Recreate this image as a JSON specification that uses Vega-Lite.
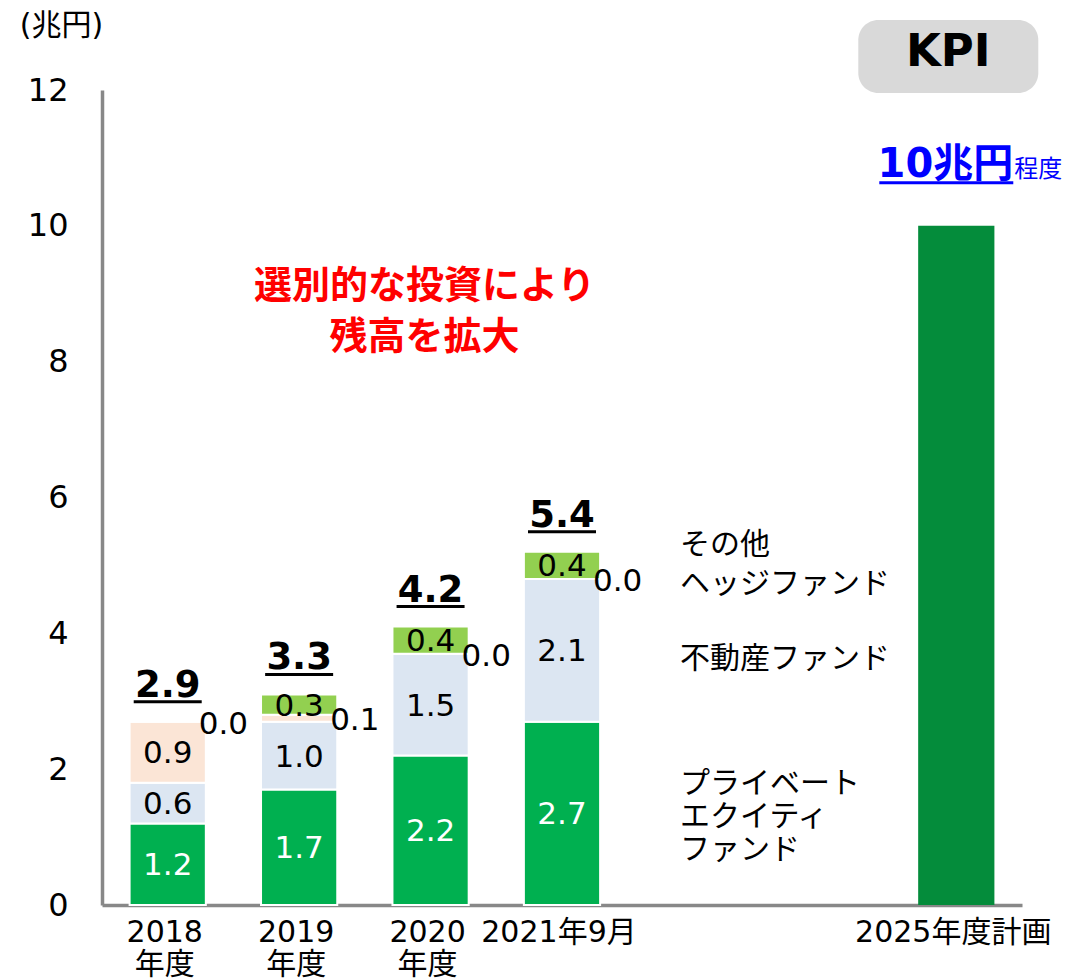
{
  "$schema": "https://vega.github.io/schema/vega-lite/v6.json",
  "width": 920,
  "height": 815,
  "autosize": {"type": "none"},
  "padding": {"left": 102, "top": 90, "right": 45, "bottom": 74},
  "background": "white",
  "config": {
    "view": {"stroke": null},
    "font": "'DejaVu Sans', 'Noto Sans CJK JP'",
    "axisY": {"labelFontSize": 32, "labelPadding": 34, "ticks": false, "grid": false, "domainColor": "#888888", "domainWidth": 3.5, "labelColor": "#000000", "labelFont": "'DejaVu Sans', 'Noto Sans CJK JP'", "format": "d"},
    "axisX": {"labelFontSize": 30, "labelPadding": 12, "labelLineHeight": 32, "labelLimit": 400, "labelOffset": -3, "ticks": false, "grid": false, "domainColor": "#888888", "domainWidth": 3.5, "labelColor": "#000000", "labelAngle": 0, "labelFont": "'DejaVu Sans', 'Noto Sans CJK JP'"}
  },
  "datasets": {
    "segments": [
      {"year": "2018 年度", "series": "PE", "k": 1, "value": 1.2, "total": "2.9"},
      {"year": "2018 年度", "series": "RE", "k": 2, "value": 0.6, "total": "2.9"},
      {"year": "2018 年度", "series": "HF", "k": 3, "value": 0.9, "total": "2.9"},
      {"year": "2018 年度", "series": "OT", "k": 4, "value": 0.0, "total": "2.9"},
      {"year": "2019 年度", "series": "PE", "k": 1, "value": 1.7, "total": "3.3"},
      {"year": "2019 年度", "series": "RE", "k": 2, "value": 1.0, "total": "3.3"},
      {"year": "2019 年度", "series": "HF", "k": 3, "value": 0.1, "total": "3.3"},
      {"year": "2019 年度", "series": "OT", "k": 4, "value": 0.3, "total": "3.3"},
      {"year": "2020 年度", "series": "PE", "k": 1, "value": 2.2, "total": "4.2"},
      {"year": "2020 年度", "series": "RE", "k": 2, "value": 1.5, "total": "4.2"},
      {"year": "2020 年度", "series": "HF", "k": 3, "value": 0.0, "total": "4.2"},
      {"year": "2020 年度", "series": "OT", "k": 4, "value": 0.4, "total": "4.2"},
      {"year": "2021年9月", "series": "PE", "k": 1, "value": 2.7, "total": "5.4"},
      {"year": "2021年9月", "series": "RE", "k": 2, "value": 2.1, "total": "5.4"},
      {"year": "2021年9月", "series": "HF", "k": 3, "value": 0.0, "total": "5.4"},
      {"year": "2021年9月", "series": "OT", "k": 4, "value": 0.4, "total": "5.4"}
    ],
    "plan": [{"year": "2025年度計画", "value": 10}],
    "one": [{}]
  },
  "encoding": {
    "x": {
      "field": "year",
      "type": "nominal",
      "title": null,
      "scale": {"domain": ["2018 年度", "2019 年度", "2020 年度", "2021年9月", "gap1", "gap2", "2025年度計画"], "paddingInner": 0.42, "paddingOuter": 0.21},
      "axis": {"labelExpr": "indexof(datum.label, 'gap') == 0 ? '' : split(datum.label, ' ')"}
    }
  },
  "layer": [
    {
      "data": {"name": "one"},
      "mark": {"type": "bar", "width": 180, "cornerRadius": 20, "color": "#D9D9D9", "xOffset": -8},
      "encoding": {
        "x": {"datum": "2025年度計画", "type": "nominal"},
        "y": {"datum": 13.031, "type": "quantitative", "title": null},
        "y2": {"datum": 11.956}
      }
    },
    {
      "data": {"name": "segments"},
      "transform": [
        {"stack": "value", "groupby": ["year"], "sort": [{"field": "k", "order": "ascending"}], "as": ["y0", "y1"]}
      ],
      "mark": {"type": "bar", "stroke": "white", "strokeWidth": 2},
      "encoding": {
        "y": {"field": "y1", "type": "quantitative", "title": null, "scale": {"domain": [0, 12], "nice": false, "zero": true}, "axis": {"values": [0, 2, 4, 6, 8, 10, 12], "format": "d"}},
        "y2": {"field": "y0"},
        "color": {"field": "series", "type": "nominal", "legend": null, "scale": {"domain": ["PE", "RE", "HF", "OT"], "range": ["#00B050", "#DCE6F2", "#FBE5D6", "#92D050"]}}
      }
    },
    {
      "data": {"name": "plan"},
      "mark": {"type": "bar", "color": "#048C3B"},
      "encoding": {
        "y": {"field": "value", "type": "quantitative", "title": null}
      }
    },
    {
      "data": {"name": "segments"},
      "transform": [
        {"stack": "value", "groupby": ["year"], "sort": [{"field": "k", "order": "ascending"}], "as": ["y0", "y1"]},
        {"calculate": "(datum.y0 + datum.y1) / 2", "as": "mid"},
        {"filter": "datum.value >= 0.2"}
      ],
      "mark": {"type": "text", "fontSize": 31, "baseline": "middle", "dy": 2},
      "encoding": {
        "y": {"field": "mid", "type": "quantitative", "title": null},
        "text": {"field": "value", "type": "quantitative", "format": ".1f"},
        "color": {"condition": {"test": "datum.series === 'PE'", "value": "#FFFFFF"}, "value": "#000000"}
      }
    },
    {
      "data": {"name": "segments"},
      "transform": [
        {"stack": "value", "groupby": ["year"], "sort": [{"field": "k", "order": "ascending"}], "as": ["y0", "y1"]},
        {"calculate": "(datum.y0 + datum.y1) / 2", "as": "mid"},
        {"filter": "datum.value < 0.2"}
      ],
      "mark": {"type": "text", "fontSize": 31, "baseline": "middle", "align": "left", "dx": 31, "dy": 3, "color": "#000000"},
      "encoding": {
        "y": {"field": "mid", "type": "quantitative", "title": null},
        "text": {"field": "value", "type": "quantitative", "format": ".1f"}
      }
    },
    {
      "data": {"name": "segments"},
      "transform": [
        {"stack": "value", "groupby": ["year"], "sort": [{"field": "k", "order": "ascending"}], "as": ["y0", "y1"]},
        {"aggregate": [{"op": "max", "field": "y1", "as": "top"}], "groupby": ["year", "total"]}
      ],
      "mark": {"type": "text", "fontSize": 37, "fontWeight": "bold", "baseline": "alphabetic", "dy": -25, "color": "#000000"},
      "encoding": {
        "y": {"field": "top", "type": "quantitative", "title": null},
        "text": {"field": "total", "type": "nominal"}
      }
    },
    {
      "data": {"name": "segments"},
      "transform": [
        {"stack": "value", "groupby": ["year"], "sort": [{"field": "k", "order": "ascending"}], "as": ["y0", "y1"]},
        {"aggregate": [{"op": "max", "field": "y1", "as": "top"}], "groupby": ["year", "total"]}
      ],
      "mark": {"type": "tick", "size": 68, "thickness": 3, "yOffset": -20, "color": "#000000", "opacity": 1},
      "encoding": {
        "y": {"field": "top", "type": "quantitative", "title": null}
      }
    },
    {
      "data": {"name": "one"},
      "mark": {"type": "text", "text": "(兆円)", "fontSize": 30, "align": "left", "baseline": "middle", "dx": -148, "color": "#000000"},
      "encoding": {
        "x": {"datum": "2018 年度", "type": "nominal"},
        "y": {"datum": 12.942, "type": "quantitative", "title": null}
      }
    },
    {
      "data": {"name": "one"},
      "mark": {"type": "text", "text": "KPI", "fontSize": 45, "fontWeight": "bold", "align": "center", "baseline": "middle", "dx": -8, "color": "#000000"},
      "encoding": {
        "x": {"datum": "2025年度計画", "type": "nominal"},
        "y": {"datum": 12.56, "type": "quantitative", "title": null}
      }
    },
    {
      "data": {"name": "one"},
      "mark": {"type": "text", "text": "10兆円", "fontSize": 40, "fontWeight": "bold", "align": "right", "baseline": "alphabetic", "dx": 57, "color": "#0000FF"},
      "encoding": {
        "x": {"datum": "2025年度計画", "type": "nominal"},
        "y": {"datum": 10.72, "type": "quantitative", "title": null}
      }
    },
    {
      "data": {"name": "one"},
      "mark": {"type": "text", "text": "程度", "fontSize": 24, "align": "left", "baseline": "alphabetic", "dx": 58, "color": "#0000FF"},
      "encoding": {
        "x": {"datum": "2025年度計画", "type": "nominal"},
        "y": {"datum": 10.72, "type": "quantitative", "title": null}
      }
    },
    {
      "data": {"name": "one"},
      "mark": {"type": "tick", "size": 134, "thickness": 3, "xOffset": -10, "color": "#0000FF", "opacity": 1},
      "encoding": {
        "x": {"datum": "2025年度計画", "type": "nominal"},
        "y": {"datum": 10.635, "type": "quantitative", "title": null}
      }
    },
    {
      "data": {"name": "one"},
      "mark": {"type": "text", "text": ["選別的な投資により", "残高を拡大"], "font": "Noto Sans CJK JP", "fontSize": 38, "fontWeight": "bold", "lineHeight": 51, "align": "center", "baseline": "alphabetic", "dx": -6, "color": "#FF0000"},
      "encoding": {
        "x": {"datum": "2020 年度", "type": "nominal"},
        "y": {"datum": 8.944, "type": "quantitative", "title": null}
      }
    },
    {
      "data": {"name": "one"},
      "mark": {"type": "text", "text": "その他", "fontSize": 30, "align": "left", "baseline": "alphabetic", "dx": 118, "color": "#000000"},
      "encoding": {
        "x": {"datum": "2021年9月", "type": "nominal"},
        "y": {"datum": 5.168, "type": "quantitative", "title": null}
      }
    },
    {
      "data": {"name": "one"},
      "mark": {"type": "text", "text": "ヘッジファンド", "fontSize": 30, "align": "left", "baseline": "alphabetic", "dx": 118, "color": "#000000"},
      "encoding": {
        "x": {"datum": "2021年9月", "type": "nominal"},
        "y": {"datum": 4.594, "type": "quantitative", "title": null}
      }
    },
    {
      "data": {"name": "one"},
      "mark": {"type": "text", "text": "不動産ファンド", "fontSize": 30, "align": "left", "baseline": "alphabetic", "dx": 118, "color": "#000000"},
      "encoding": {
        "x": {"datum": "2021年9月", "type": "nominal"},
        "y": {"datum": 3.49, "type": "quantitative", "title": null}
      }
    },
    {
      "data": {"name": "one"},
      "mark": {"type": "text", "text": ["プライベート", "エクイティ", "ファンド"], "fontSize": 30, "lineHeight": 33, "align": "left", "baseline": "alphabetic", "dx": 118, "color": "#000000"},
      "encoding": {
        "x": {"datum": "2021年9月", "type": "nominal"},
        "y": {"datum": 1.649, "type": "quantitative", "title": null}
      }
    }
  ]
}
